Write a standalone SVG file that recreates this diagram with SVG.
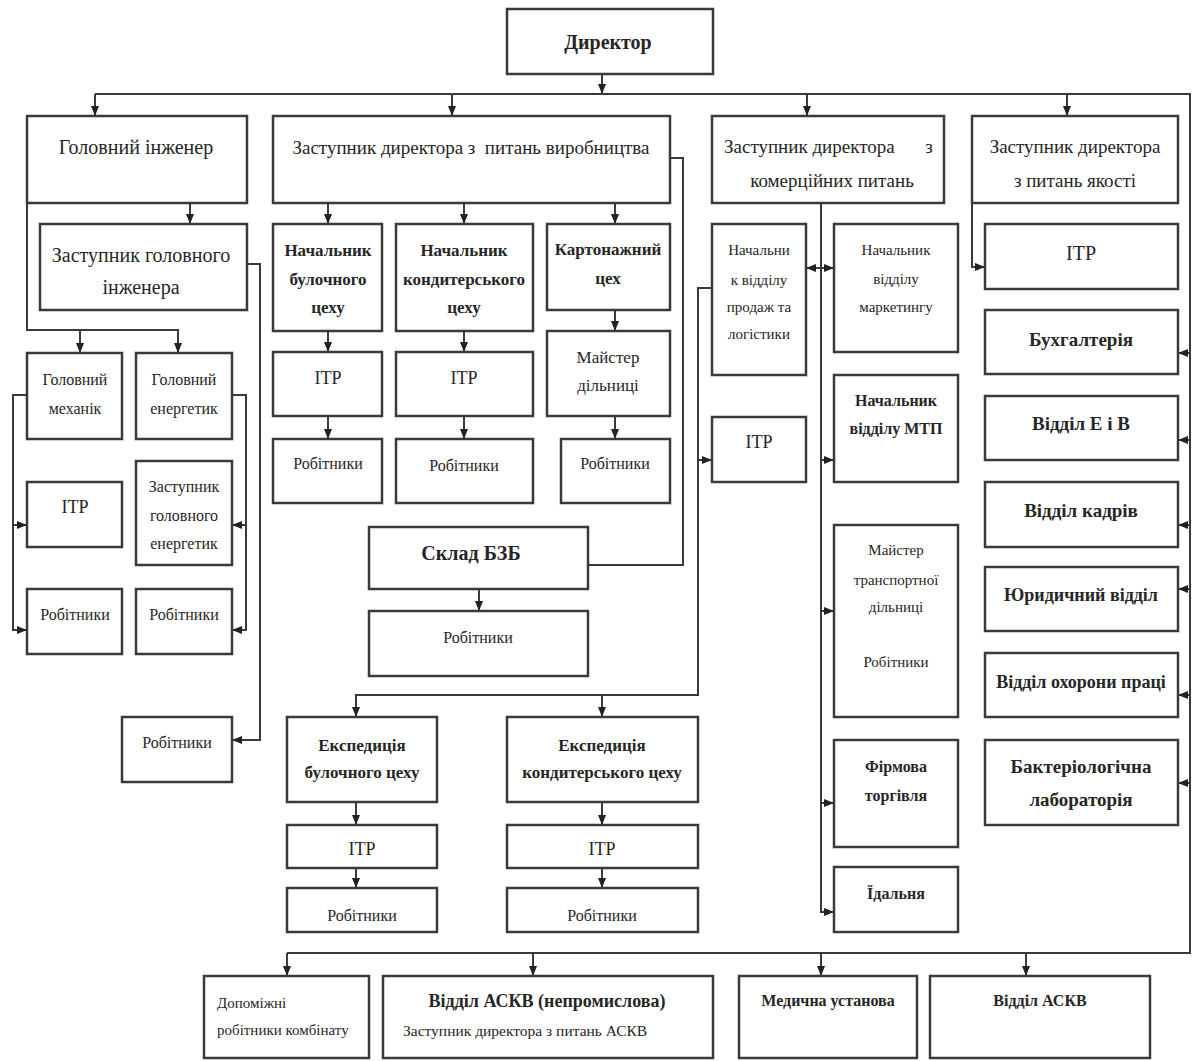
<svg xmlns="http://www.w3.org/2000/svg" width="1192" height="1061" viewBox="0 0 1192 1061">
<style>
rect{fill:#fff;stroke:#3a3a3a;stroke-width:2.5}
text{font-family:"Liberation Serif","DejaVu Serif",serif;fill:#262626;text-anchor:middle;dominant-baseline:central}
.bd{font-weight:bold}
.l{text-anchor:start}
.s20{font-size:20px}.s19{font-size:19px}.s18{font-size:18px}.s17{font-size:17px}.s16{font-size:16px}.s15{font-size:15px}
#connectors path{fill:none;stroke:#3a3a3a;stroke-width:2}
</style>
<defs>
<marker id="ar" viewBox="0 0 10 8" refX="10" refY="4" markerWidth="10" markerHeight="8" markerUnits="userSpaceOnUse" orient="auto">
<path d="M0,0 L10,4 L0,8 z" fill="#222"/>
</marker>
</defs>
<rect width="1192" height="1061" style="fill:#fff;stroke:none"/>
<g id="connectors">
<path d="M602,74 V94" marker-end="url(#ar)"/>
<path d="M95,94 H1190 V953 H287"/>
<path d="M95,94 V116" marker-end="url(#ar)"/>
<path d="M452,94 V116" marker-end="url(#ar)"/>
<path d="M807,94 V116" marker-end="url(#ar)"/>
<path d="M1067,94 V116" marker-end="url(#ar)"/>
<path d="M1190,353 H1178" marker-end="url(#ar)"/>
<path d="M1190,440 H1178" marker-end="url(#ar)"/>
<path d="M1190,525 H1178" marker-end="url(#ar)"/>
<path d="M1190,589 H1178" marker-end="url(#ar)"/>
<path d="M1190,695 H1178" marker-end="url(#ar)"/>
<path d="M1190,783 H1178" marker-end="url(#ar)"/>
<path d="M972,203 V267 H985" marker-end="url(#ar)"/>
<path d="M287,953 V976" marker-end="url(#ar)"/>
<path d="M533,953 V976" marker-end="url(#ar)"/>
<path d="M821,953 V976" marker-end="url(#ar)"/>
<path d="M1026,953 V976" marker-end="url(#ar)"/>
<path d="M190,203 V224" marker-end="url(#ar)"/>
<path d="M27,203 V330 H178 V353" marker-end="url(#ar)"/>
<path d="M80,330 V353" marker-end="url(#ar)"/>
<path d="M27,395 H13 V630 H27" marker-end="url(#ar)"/>
<path d="M13,525 H27" marker-end="url(#ar)"/>
<path d="M232,395 H246 V630 H232" marker-end="url(#ar)"/>
<path d="M246,525 H232" marker-end="url(#ar)"/>
<path d="M247,264 H260 V740 H232" marker-end="url(#ar)"/>
<path d="M328,203 V224" marker-end="url(#ar)"/>
<path d="M328,331 V352" marker-end="url(#ar)"/>
<path d="M328,416 V439" marker-end="url(#ar)"/>
<path d="M464,203 V224" marker-end="url(#ar)"/>
<path d="M464,331 V352" marker-end="url(#ar)"/>
<path d="M464,416 V439" marker-end="url(#ar)"/>
<path d="M615,203 V224" marker-end="url(#ar)"/>
<path d="M615,310 V331" marker-end="url(#ar)"/>
<path d="M615,416 V439" marker-end="url(#ar)"/>
<path d="M670,158 H683 V565 H588"/>
<path d="M479,589 V611" marker-end="url(#ar)"/>
<path d="M712,288 H698 V695 H356 V717" marker-end="url(#ar)"/>
<path d="M602,695 V717" marker-end="url(#ar)"/>
<path d="M698,460 H712" marker-end="url(#ar)"/>
<path d="M356,802 V825" marker-end="url(#ar)"/>
<path d="M356,868 V888" marker-end="url(#ar)"/>
<path d="M602,802 V825" marker-end="url(#ar)"/>
<path d="M602,868 V888" marker-end="url(#ar)"/>
<path d="M821,203 V912 H834" marker-end="url(#ar)"/>
<path d="M821,268 H806" marker-end="url(#ar)"/>
<path d="M821,268 H834" marker-end="url(#ar)"/>
<path d="M821,460 H834" marker-end="url(#ar)"/>
<path d="M821,611 H834" marker-end="url(#ar)"/>
<path d="M821,803 H834" marker-end="url(#ar)"/>
</g>
<g id="n-director"><rect x="507" y="9" width="206" height="65"/><text class="bd s20" x="608" y="42">Директор</text></g>
<g id="n-chief-eng"><rect x="27" y="116" width="220" height="87"/><text class="s20" x="136" y="147">Головний інженер</text></g>
<g id="n-dep-prod"><rect x="273" y="116" width="397" height="87"/><text class="s19" x="471" y="147" xml:space="preserve">Заступник директора з  питань виробництва</text></g>
<g id="n-dep-comm"><rect x="712" y="116" width="232" height="87"/><text class="s19 l" x="724" y="146">Заступник директора</text><text class="s19" x="929" y="146">з</text><text class="s19" x="832" y="180">комерційних питань</text></g>
<g id="n-dep-qual"><rect x="972" y="116" width="206" height="87"/><text class="s19" x="1075" y="146">Заступник директора</text><text class="s19" x="1075" y="180">з питань якості</text></g>
<g id="n-dep-chief-eng"><rect x="40" y="224" width="207" height="86"/><text class="s20" x="141" y="255">Заступник головного</text><text class="s20" x="141" y="287">інженера</text></g>
<g id="n-mech"><rect x="27" y="353" width="95" height="86"/><text class="s16" x="75" y="379">Головний</text><text class="s16" x="75" y="408">механік</text></g>
<g id="n-energ"><rect x="136" y="353" width="96" height="86"/><text class="s16" x="184" y="379">Головний</text><text class="s16" x="184" y="408">енергетик</text></g>
<g id="n-itr-mech"><rect x="27" y="482" width="95" height="65"/><text class="s18" x="75" y="507">ІТР</text></g>
<g id="n-dep-energ"><rect x="136" y="461" width="96" height="104"/><text class="s16" x="184" y="486">Заступник</text><text class="s16" x="184" y="515">головного</text><text class="s16" x="184" y="543">енергетик</text></g>
<g id="n-work-mech"><rect x="27" y="589" width="95" height="65"/><text class="s16" x="75" y="614">Робітники</text></g>
<g id="n-work-energ"><rect x="136" y="589" width="96" height="65"/><text class="s16" x="184" y="614">Робітники</text></g>
<g id="n-work-eng"><rect x="122" y="717" width="110" height="65"/><text class="s16" x="177" y="742">Робітники</text></g>
<g id="n-bakery"><rect x="273" y="224" width="109" height="107"/><text class="bd s17" x="328" y="250">Начальник</text><text class="bd s17" x="328" y="279">булочного</text><text class="bd s17" x="328" y="307">цеху</text></g>
<g id="n-itr-bakery"><rect x="273" y="352" width="109" height="64"/><text class="s18" x="328" y="378">ІТР</text></g>
<g id="n-work-bakery"><rect x="273" y="439" width="109" height="64"/><text class="s16" x="328" y="463">Робітники</text></g>
<g id="n-confect"><rect x="396" y="224" width="137" height="107"/><text class="bd s17" x="464" y="250">Начальник</text><text class="bd s17" x="464" y="279">кондитерського</text><text class="bd s17" x="464" y="307">цеху</text></g>
<g id="n-itr-confect"><rect x="396" y="352" width="137" height="64"/><text class="s18" x="464" y="378">ІТР</text></g>
<g id="n-work-confect"><rect x="396" y="439" width="137" height="64"/><text class="s16" x="464" y="465">Робітники</text></g>
<g id="n-carton"><rect x="547" y="224" width="123" height="86"/><text class="bd s17" x="608" y="249">Картонажний</text><text class="bd s17" x="608" y="278">цех</text></g>
<g id="n-master"><rect x="547" y="331" width="123" height="85"/><text class="s17" x="608" y="357">Майстер</text><text class="s17" x="608" y="385">дільниці</text></g>
<g id="n-work-carton"><rect x="561" y="439" width="109" height="64"/><text class="s16" x="615" y="463">Робітники</text></g>
<g id="n-warehouse"><rect x="369" y="527" width="219" height="62"/><text class="bd s20" x="471" y="553">Склад БЗБ</text></g>
<g id="n-work-warehouse"><rect x="369" y="611" width="219" height="65"/><text class="s16" x="478" y="637">Робітники</text></g>
<g id="n-exp-bakery"><rect x="287" y="717" width="150" height="85"/><text class="bd s17" x="362" y="745">Експедиція</text><text class="bd s17" x="362" y="772">булочного цеху</text></g>
<g id="n-itr-exp-bakery"><rect x="287" y="825" width="150" height="43"/><text class="s18" x="362" y="849">ІТР</text></g>
<g id="n-work-exp-bakery"><rect x="287" y="888" width="150" height="44"/><text class="s16" x="362" y="915">Робітники</text></g>
<g id="n-exp-confect"><rect x="507" y="717" width="191" height="85"/><text class="bd s17" x="602" y="745">Експедиція</text><text class="bd s17" x="602" y="772">кондитерського цеху</text></g>
<g id="n-itr-exp-confect"><rect x="507" y="825" width="191" height="43"/><text class="s18" x="602" y="849">ІТР</text></g>
<g id="n-work-exp-confect"><rect x="507" y="888" width="191" height="44"/><text class="s16" x="602" y="915">Робітники</text></g>
<g id="n-sales"><rect x="712" y="224" width="94" height="151"/><text class="s15" x="759" y="250">Начальни</text><text class="s15" x="759" y="280">к відділу</text><text class="s15" x="759" y="307">продаж та</text><text class="s15" x="759" y="334">логістики</text></g>
<g id="n-itr-comm"><rect x="712" y="417" width="94" height="65"/><text class="s18" x="759" y="442">ІТР</text></g>
<g id="n-marketing"><rect x="834" y="224" width="124" height="128"/><text class="s15" x="896" y="250">Начальник</text><text class="s15" x="896" y="279">відділу</text><text class="s15" x="896" y="307">маркетингу</text></g>
<g id="n-mtp"><rect x="834" y="375" width="124" height="107"/><text class="bd s16" x="896" y="400">Начальник</text><text class="bd s16" x="896" y="428">відділу МТП</text></g>
<g id="n-transport"><rect x="834" y="525" width="124" height="192"/><text class="s15" x="896" y="550">Майстер</text><text class="s15" x="896" y="580">транспортної</text><text class="s15" x="896" y="607">дільниці</text><text class="s15" x="896" y="662">Робітники</text></g>
<g id="n-trade"><rect x="834" y="740" width="124" height="107"/><text class="bd s16" x="896" y="766">Фірмова</text><text class="bd s16" x="896" y="795">торгівля</text></g>
<g id="n-canteen"><rect x="834" y="867" width="124" height="65"/><text class="bd s16" x="896" y="893">Їдальня</text></g>
<g id="n-itr-qual"><rect x="985" y="224" width="193" height="65"/><text class="s20" x="1081" y="253">ІТР</text></g>
<g id="n-account"><rect x="985" y="310" width="193" height="64"/><text class="bd s19" x="1081" y="339">Бухгалтерія</text></g>
<g id="n-eib"><rect x="985" y="396" width="193" height="64"/><text class="bd s19" x="1081" y="423">Відділ Е і В</text></g>
<g id="n-hr"><rect x="985" y="482" width="193" height="65"/><text class="bd s19" x="1081" y="510">Відділ кадрів</text></g>
<g id="n-legal"><rect x="985" y="567" width="193" height="64"/><text class="bd s18" x="1081" y="595">Юридичний відділ</text></g>
<g id="n-safety"><rect x="985" y="653" width="193" height="64"/><text class="bd s18" x="1081" y="682">Відділ охорони праці</text></g>
<g id="n-lab"><rect x="985" y="740" width="193" height="85"/><text class="bd s19" x="1081" y="766">Бактеріологічна</text><text class="bd s19" x="1081" y="799">лабораторія</text></g>
<g id="n-aux"><rect x="204" y="976" width="165" height="82"/><text class="s15 l" x="217" y="1003">Допоміжні</text><text class="s15 l" x="217" y="1030">робітники комбінату</text></g>
<g id="n-ackv-np"><rect x="383" y="976" width="330" height="82"/><text class="bd s18" x="547" y="1001">Відділ АСКВ (непромислова)</text><text class="l" style="font-size:15.5px" x="403" y="1030">Заступник директора з питань АСКВ</text></g>
<g id="n-medical"><rect x="739" y="976" width="178" height="82"/><text class="bd s16" x="828" y="1000">Медична установа</text></g>
<g id="n-ackv"><rect x="930" y="976" width="220" height="82"/><text class="bd s16" x="1040" y="1000">Відділ АСКВ</text></g>
</svg>
